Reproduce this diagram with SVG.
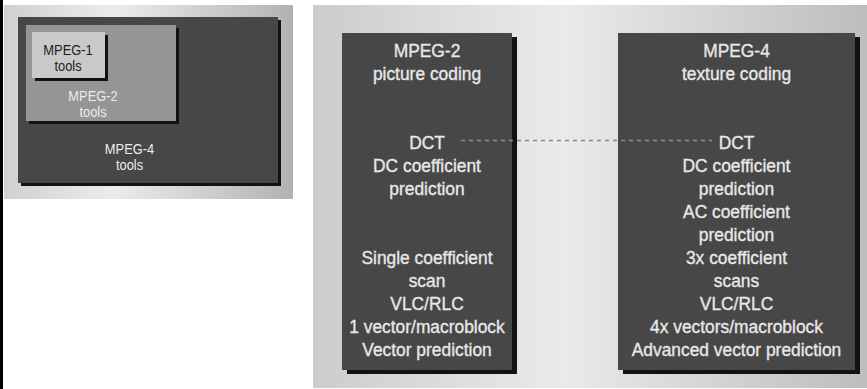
<svg xmlns="http://www.w3.org/2000/svg" width="867" height="389" viewBox="0 0 867 389">
<style>
  .t { font-family: "Liberation Sans", Arial, sans-serif; text-anchor: middle; }
  .big { font-size: 18.5px; fill: #e8e8e8; stroke: #e8e8e8; stroke-width: 0.35px; }
  .small { font-size: 14px; }
  .light { fill: #ececec; }
  .dark { fill: #1e1e1e; }
  .shadow { fill: #121212; }
  .box4 { fill: #474747; }
</style>
<defs>
  <linearGradient id="bgL" x1="0" y1="0" x2="1" y2="0">
    <stop offset="0" stop-color="#d0d0d0"/>
    <stop offset="0.38" stop-color="#ececec"/>
    <stop offset="1" stop-color="#b2b2b2"/>
  </linearGradient>
  <linearGradient id="bgR" x1="0" y1="0" x2="1" y2="0">
    <stop offset="0" stop-color="#cccccc"/>
    <stop offset="0.45" stop-color="#eaeaea"/>
    <stop offset="1" stop-color="#bdbdbd"/>
  </linearGradient>
</defs>
<rect x="0" y="0" width="867" height="389" fill="#ffffff"/>
<rect x="0" y="0" width="3" height="389" fill="#000000"/>
<rect x="4" y="5" width="289" height="194" fill="url(#bgL)"/>
<rect x="313" y="5" width="554" height="383" fill="url(#bgR)"/>

<g id="mpeg4-tools">
  <rect class="shadow" x="21" y="20" width="260" height="166"/>
  <rect class="box4" x="18" y="17" width="260" height="166"/>
  <g transform="translate(129.5,0) scale(0.92,1)">
    <text class="t small light" x="0" y="154">MPEG-4</text>
    <text class="t small light" x="0" y="170">tools</text>
  </g>
</g>
<g id="mpeg2-tools">
  <rect class="shadow" x="29" y="28" width="150" height="96"/>
  <rect x="26" y="25" width="150" height="96" fill="#959595"/>
  <g transform="translate(93,0) scale(0.92,1)">
    <text class="t small light" x="0" y="101">MPEG-2</text>
    <text class="t small light" x="0" y="117">tools</text>
  </g>
</g>
<g id="mpeg1-tools">
  <rect class="shadow" x="35" y="35" width="73" height="46"/>
  <rect x="32" y="32" width="73" height="46" fill="#c9c9c9"/>
  <g transform="translate(68,0) scale(0.92,1)">
    <text class="t small dark" x="0" y="55">MPEG-1</text>
    <text class="t small dark" x="0" y="71">tools</text>
  </g>
</g>

<g id="mpeg2-picture">
  <rect class="shadow" x="347" y="37" width="170" height="337"/>
  <rect class="box4" x="342" y="33" width="170" height="337"/>
  <g transform="translate(427,0) scale(0.94,1)">
    <text class="t big" x="0" y="57.5">MPEG-2</text>
    <text class="t big" x="0" y="80.5">picture coding</text>
    <text class="t big" x="0" y="149.5">DCT</text>
    <text class="t big" x="0" y="172.5">DC coefficient</text>
    <text class="t big" x="0" y="195.5">prediction</text>
    <text class="t big" x="0" y="264.5">Single coefficient</text>
    <text class="t big" x="0" y="287.5">scan</text>
    <text class="t big" x="0" y="310.5">VLC/RLC</text>
    <text class="t big" x="0" y="333.5">1 vector/macroblock</text>
    <text class="t big" x="0" y="356.5">Vector prediction</text>
  </g>
</g>

<g id="mpeg4-texture">
  <rect class="shadow" x="623" y="37" width="237" height="337"/>
  <rect class="box4" x="618" y="33" width="237" height="337"/>
  <g transform="translate(736.5,0) scale(0.94,1)">
    <text class="t big" x="0" y="57.5">MPEG-4</text>
    <text class="t big" x="0" y="80.5">texture coding</text>
    <text class="t big" x="0" y="149.5">DCT</text>
    <text class="t big" x="0" y="172.5">DC coefficient</text>
    <text class="t big" x="0" y="195.5">prediction</text>
    <text class="t big" x="0" y="218.5">AC coefficient</text>
    <text class="t big" x="0" y="241.5">prediction</text>
    <text class="t big" x="0" y="264.5">3x coefficient</text>
    <text class="t big" x="0" y="287.5">scans</text>
    <text class="t big" x="0" y="310.5">VLC/RLC</text>
    <text class="t big" x="0" y="333.5">4x vectors/macroblock</text>
    <text class="t big" x="0" y="356.5">Advanced vector prediction</text>
  </g>
</g>

<g id="connectors">
  <line x1="461" y1="140.5" x2="712" y2="140.5" stroke="#8a8a8a" stroke-width="1.5" stroke-dasharray="4 4"/>
</g>
</svg>
